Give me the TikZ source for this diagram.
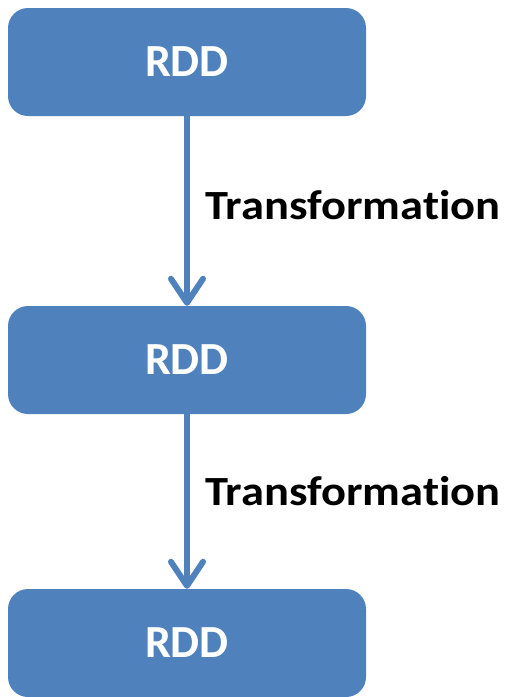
\documentclass[tikz,border=0pt]{standalone}
\usepackage{fontspec}
\setmainfont{Carlito}[Ligatures=NoCommon]
\usetikzlibrary{arrows.meta,positioning}
\definecolor{rddblue}{HTML}{4F81BD}
\tikzset{rdd/.style={fill=rddblue,rounded corners=20pt,minimum width=358pt,
    minimum height=108pt,text=white,font=\fontsize{46}{50}\selectfont\bfseries}}
\tikzset{flow/.style={rddblue,line width=6pt,
    -{Straight Barb[round,length=24pt,width=32pt]}}}
\tikzset{lbl/.style={inner sep=0pt,font=\fontsize{41.5}{46}\selectfont\bfseries}}
\newcommand{\widetext}[1]{\scalebox{1.12}[1]{#1}}

\begin{document}
\begin{tikzpicture}[x=1pt,y=-1pt]
  \useasboundingbox (0,0) rectangle (509,697);
  \node[rdd] (rdd1) at (187,62) {RDD};
  \node[rdd] (rdd2) at (187,360) {RDD};
  \node[rdd] (rdd3) at (187,643) {RDD};
  \draw[flow] (rdd1) -- (rdd2);
  \draw[flow] (rdd2) -- (rdd3);
  \node[lbl,anchor=base west] (trans1) at (205,219) {\widetext{Transformation}};
  \node[lbl,anchor=base west] (trans2) at (205,505) {\widetext{Transformation}};
\end{tikzpicture}
\end{document}
